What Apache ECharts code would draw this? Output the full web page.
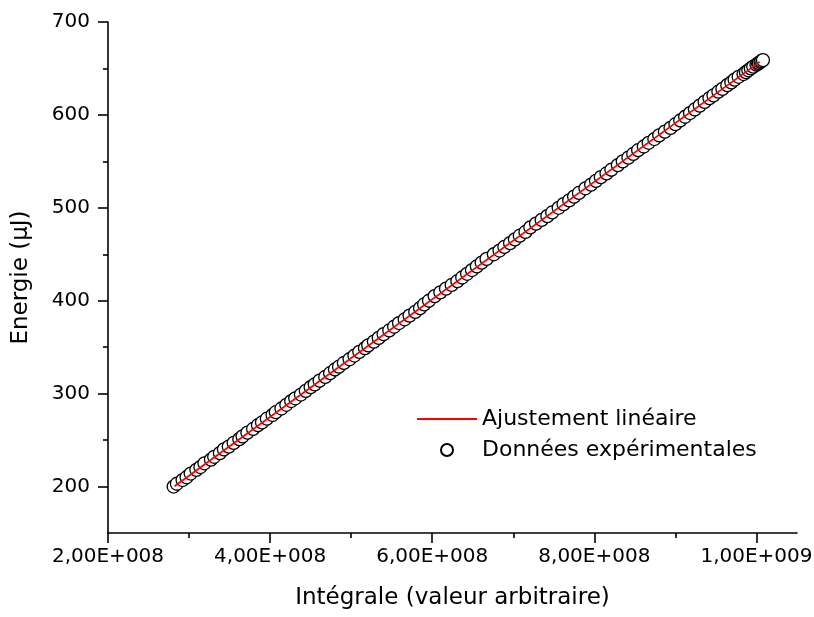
<!DOCTYPE html>
<html>
<head>
<meta charset="utf-8">
<script src="https://cdn.jsdelivr.net/npm/echarts@6/dist/echarts.min.js"></script>
<style>
html,body{margin:0;padding:0;background:#fff;}
#chart{width:814px;height:617px;}
</style>
</head>
<body>
<div id="chart"></div>
<script>
// Experimental data: x = intégrale (arbitrary units), y = énergie (µJ)
const integrale = [
  2.81e8, 2.85e8, 2.92e8, 2.97e8, 3.02e8, 3.09e8, 3.14e8, 3.19e8, 3.27e8, 3.31e8,
  3.38e8, 3.43e8, 3.49e8, 3.55e8, 3.62e8, 3.66e8, 3.72e8, 3.79e8, 3.85e8, 3.90e8,
  3.96e8, 4.03e8, 4.07e8, 4.14e8, 4.20e8, 4.26e8, 4.31e8, 4.38e8, 4.44e8, 4.50e8,
  4.55e8, 4.61e8, 4.68e8, 4.74e8, 4.80e8, 4.85e8, 4.91e8, 4.98e8, 5.04e8, 5.10e8,
  5.17e8, 5.21e8, 5.28e8, 5.34e8, 5.40e8, 5.47e8, 5.53e8, 5.59e8, 5.66e8, 5.72e8,
  5.79e8, 5.85e8, 5.90e8, 5.96e8, 6.03e8, 6.10e8, 6.17e8, 6.24e8, 6.31e8, 6.37e8,
  6.43e8, 6.49e8, 6.55e8, 6.61e8, 6.67e8, 6.76e8, 6.83e8, 6.89e8, 6.96e8, 7.02e8,
  7.08e8, 7.15e8, 7.21e8, 7.28e8, 7.35e8, 7.42e8, 7.48e8, 7.56e8, 7.62e8, 7.69e8,
  7.75e8, 7.81e8, 7.89e8, 7.96e8, 8.02e8, 8.08e8, 8.15e8, 8.21e8, 8.29e8, 8.35e8,
  8.42e8, 8.48e8, 8.54e8, 8.61e8, 8.67e8, 8.74e8, 8.80e8, 8.87e8, 8.94e8, 9.00e8,
  9.06e8, 9.12e8, 9.18e8, 9.24e8, 9.30e8, 9.36e8, 9.42e8, 9.47e8, 9.53e8, 9.58e8,
  9.64e8, 9.69e8, 9.73e8, 9.78e8, 9.84e8, 9.87e8, 9.90e8, 9.93e8, 9.96e8, 10.00e8,
  10.02e8, 10.03e8, 10.05e8, 10.06e8, 10.08e8
];
const energie = [
  200, 203, 207, 210, 214, 218, 221, 225, 229, 232,
  236, 240, 243, 247, 251, 254, 258, 262, 266, 269,
  273, 277, 280, 284, 288, 292, 295, 299, 303, 307,
  310, 314, 318, 322, 326, 329, 333, 337, 341, 345,
  349, 352, 356, 360, 364, 368, 372, 376, 380, 384,
  388, 392, 396, 400, 405, 409, 413, 417, 421, 425,
  429, 433, 437, 441, 445, 450, 454, 458, 462, 466,
  470, 474, 479, 483, 487, 491, 495, 500, 504, 508,
  512, 516, 521, 525, 529, 533, 537, 541, 546, 550,
  554, 558, 562, 566, 570, 574, 578, 582, 586, 590,
  594, 598, 602, 606, 610, 614, 618, 621, 625, 628,
  632, 635, 638, 641, 644, 646, 648, 650, 652, 654,
  655, 656, 657, 658, 659
];
// Linear fit end points
const fitX = [2.82e8, 10.04e8];
const fitY = [200.3, 657.1];

// Axis ticks
const xMajorTicks = [2e8, 4e8, 6e8, 8e8, 1e9];
const xMinorTicks = [3e8, 5e8, 7e8, 9e8];
const yMajorTicks = [200, 300, 400, 500, 600, 700];
const yMinorTicks = [250, 350, 450, 550, 650];

const seriesNames = ['Ajustement linéaire', 'Données expérimentales'];
const xTitle = 'Intégrale (valeur arbitraire)';
const yTitle = 'Energie (µJ)';

function sci(v) {
  const e = Math.floor(Math.log10(v) + 1e-9);
  const m = (v / Math.pow(10, e)).toFixed(2).replace('.', ',');
  return m + 'E+' + String(e).padStart(3, '0');
}

const FONT = 'DejaVu Sans';
const scatterData = integrale.map((x, i) => [x, energie[i]]);
const fitData = fitX.map((x, i) => [x, fitY[i]]);

const chart = echarts.init(document.getElementById('chart'), null, {renderer: 'canvas'});
chart.setOption({
  animation: false,
  backgroundColor: '#ffffff',
  grid: {left: 108, right: 17, top: 22, bottom: 84, containLabel: false, outerBoundsMode: 'none'},
  legend: {
    orient: 'vertical',
    left: 412,
    top: 403,
    itemWidth: 60,
    itemHeight: 12,
    itemGap: 9,
    textStyle: {fontFamily: FONT, fontSize: 22, color: '#000'},
    data: [
      {name: seriesNames[0], icon: 'path://M0,0H30V1H0Z'},
      {name: seriesNames[1]}
    ]
  },
  xAxis: [
    {
      type: 'value', min: 2e8, max: 1.05e9,
      name: xTitle, nameLocation: 'middle', nameGap: 54,
      nameTextStyle: {fontFamily: FONT, fontSize: 23, color: '#000'},
      axisLine: {show: true, onZero: false, lineStyle: {color: '#000', width: 1.6}},
      axisTick: {show: true, inside: false, length: 10, customValues: xMajorTicks, lineStyle: {color: '#000', width: 1.6}},
      axisLabel: {show: true, margin: 14, customValues: xMajorTicks, formatter: sci, fontFamily: FONT, fontSize: 20, color: '#000'},
      splitLine: {show: false}
    },
    {
      type: 'value', min: 2e8, max: 1.05e9, position: 'bottom',
      axisLine: {show: false, onZero: false},
      axisTick: {show: true, inside: false, length: 5, customValues: xMinorTicks, lineStyle: {color: '#000', width: 1.6}},
      axisLabel: {show: false},
      splitLine: {show: false}
    }
  ],
  yAxis: [
    {
      type: 'value', min: 150, max: 700,
      name: yTitle, nameLocation: 'middle', nameGap: 75, nameRotate: 90,
      nameTextStyle: {fontFamily: FONT, fontSize: 23, color: '#000'},
      axisLine: {show: true, onZero: false, lineStyle: {color: '#000', width: 1.6}},
      axisTick: {show: true, inside: false, length: 10, customValues: yMajorTicks, lineStyle: {color: '#000', width: 1.6}},
      axisLabel: {show: true, margin: 18, customValues: yMajorTicks, fontFamily: FONT, fontSize: 20, color: '#000'},
      splitLine: {show: false}
    },
    {
      type: 'value', min: 150, max: 700, position: 'left',
      axisLine: {show: false, onZero: false},
      axisTick: {show: true, inside: false, length: 5, customValues: yMinorTicks, lineStyle: {color: '#000', width: 1.6}},
      axisLabel: {show: false},
      splitLine: {show: false}
    }
  ],
  series: [
    {
      name: seriesNames[1],
      type: 'scatter',
      xAxisIndex: 0, yAxisIndex: 0,
      symbol: 'circle',
      symbolSize: 13,
      itemStyle: {color: '#ffffff', borderColor: '#000000', borderWidth: 1.3, opacity: 1},
      emphasis: {disabled: true},
      data: scatterData,
      z: 2
    },
    {
      name: seriesNames[0],
      type: 'line',
      xAxisIndex: 0, yAxisIndex: 0,
      symbol: 'none',
      lineStyle: {color: '#ff0000', width: 1.8},
      itemStyle: {color: '#ff0000'},
      data: fitData,
      z: 3
    }
  ]
});
</script>
</body>
</html>
